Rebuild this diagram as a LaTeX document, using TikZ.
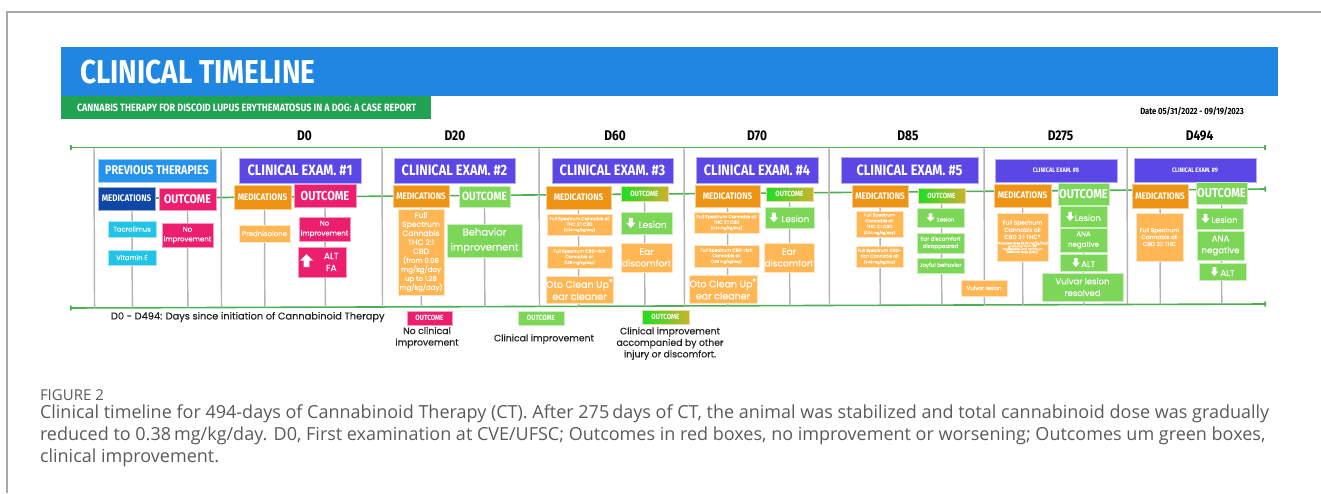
\documentclass[tikz,border=0pt]{standalone}
\usepackage{fontspec}
\setmainfont{Poppins}[UprightFeatures={FakeBold=0.3}]
\newfontfamily\hd[FakeStretch=0.85]{Fira Sans}
\newfontfamily\capfont{Open Sans}
\usetikzlibrary{arrows.meta,calc,backgrounds}

% sizes are given in pixels of the drawing grid (1px = 0.75pt)
\newcommand\fs[2]{\fontsize{\fpeval{#1*0.75}pt}{\fpeval{#2*0.75}pt}\selectfont}
% box from (x1,y1) to (x2,y2): name, style, x1, y1, x2, y2, text
\newcommand\bx[7]{\node[#2, minimum width={(#5-#3)*0.75pt}, minimum height={(#6-#4)*0.75pt}] (#1) at ({(#3+#5)/2},{(#4+#6)/2}) {#7};}
% inline white block arrows (width, height in px)
\newcommand\arrdn[2]{\tikz[baseline=0pt,x=0.75pt,y=0.75pt]\fill[white] (0.27*#1,#2)--(0.73*#1,#2)--(0.73*#1,0.5*#2)--(#1,0.5*#2)--(0.5*#1,0)--(0,0.5*#2)--(0.27*#1,0.5*#2)--cycle;}
% up arrow placed in picture coordinates: x1, ytop, x2, ybottom
\newcommand\arrupat[4]{\fill[white] ({(#1+#3)/2},#2) -- (#3,{#2+(#4-#2)*0.5}) -- ({#1+(#3-#1)*0.73},{#2+(#4-#2)*0.5}) -- ({#1+(#3-#1)*0.73},#4) -- ({#1+(#3-#1)*0.27},#4) -- ({#1+(#3-#1)*0.27},{#2+(#4-#2)*0.5}) -- (#1,{#2+(#4-#2)*0.5}) -- cycle;}

\definecolor{hdblue}{HTML}{1F86E2}
\definecolor{subgreen}{HTML}{21A152}
\definecolor{prevblue}{HTML}{2592EC}
\definecolor{medblue}{HTML}{0E47A8}
\definecolor{cpink}{HTML}{EC1F6E}
\definecolor{ccyan}{HTML}{22C3E6}
\definecolor{cpurple}{HTML}{5B47E6}
\definecolor{corange}{HTML}{EE9414}
\definecolor{clight}{HTML}{FFB654}
\definecolor{cgreen}{HTML}{7CD657}
\definecolor{gradA}{HTML}{1ADF24}
\definecolor{gradB}{HTML}{CBB22E}
\definecolor{tline}{HTML}{4DAF55}
\definecolor{sepgray}{HTML}{B4B4B4}
\definecolor{framegray}{HTML}{A8A8A8}
\definecolor{captext}{HTML}{5A5A5A}
\definecolor{legtext}{HTML}{222222}

\begin{document}
\begin{tikzpicture}[x=0.75pt,y=-0.75pt,
  every node/.style={inner sep=0pt, outer sep=0pt},
  box/.style={align=center, text=white, line width=0.5pt},
  hfont/.style={font={\hd\bfseries\fs{#1}{#1}}},
  bfont/.style 2 args={font={\fs{#1}{#2}}},
  pinkb/.style={box, fill=cpink, draw=cpink!45!white},
  orangeb/.style={box, fill=corange, draw=corange!45!white},
  lightb/.style={box, fill=clight, draw=clight!35!white},
  greenb/.style={box, fill=cgreen, draw=cgreen!40!white},
  purpleb/.style={box, fill=cpurple, draw=cpurple!45!white},
  cyanb/.style={box, fill=ccyan, draw=ccyan!40!white},
  gradb/.style={box, left color=gradA, middle color=gradA!75!gradB, right color=gradB, draw=gradB!45!white},
  med/.style={orangeb, hfont=9.5},
  exam/.style={purpleb, hfont=15},
  examsmall/.style={purpleb, hfont=6.5},
  outsmall/.style={gradb, hfont=7.5},
  tline/.style={draw=tline, line width=1.2pt},
  sepline/.style={draw=sepgray, line width=1.1pt},
  legtxt/.style={align=center, text=legtext, font={\fs{9.3}{11.5}}}
]
\useasboundingbox (0,0) rectangle (1321,493);

% page frame
\draw[framegray, line width=0.8pt] (1321,12) -- (7,12) -- (7,493);

% title banner
\bx{banner}{fill=hdblue}{61}{47}{1278}{96}{}
\node[anchor=west, text=white, hfont=33] (title) at (80,72) {CLINICAL TIMELINE};
\bx{subbar}{fill=subgreen}{61}{96}{431}{119}{}
\node[anchor=west, text=white, hfont=10.6] (subtitle) at (77,107.8) {CANNABIS THERAPY FOR DISCOID LUPUS ERYTHEMATOSUS IN A DOG: A CASE REPORT};
\node[hfont=9] (date) at (1192,111) {Date 05/31/2022 - 09/19/2023};

% day labels
\node[hfont=14] (d0) at (304.5,135.5) {D0};
\node[hfont=14] (d20) at (455,135.5) {D20};
\node[hfont=14] (d60) at (615,135.5) {D60};
\node[hfont=14] (d70) at (757,135.5) {D70};
\node[hfont=14] (d85) at (908,135.5) {D85};
\node[hfont=14] (d275) at (1060.5,135.5) {D275};
\node[hfont=14] (d494) at (1199.5,135.5) {D494};

% timeline ends
\coordinate (tl) at (70,147.5);
\coordinate (tr) at (1266,147.5);
\coordinate (bl) at (70,308);
\coordinate (br) at (1266,304);
\coordinate (mr) at (1266,189);
\foreach \i/\x in {0/94,1/221,2/382,3/539,4/684,5/829,6/984,7/1127}
  \coordinate (s\i) at (\x,147.5);

% ---- previous therapies
\bx{prev}{box, fill=prevblue, draw=prevblue!45!white, hfont=12.6}{98}{159}{216}{182}{PREVIOUS THERAPIES}
\bx{medA}{box, fill=medblue, draw=medblue!45!white, hfont=9.5}{98}{187}{155}{210}{MEDICATIONS}
\bx{outA}{pinkb, hfont=12.5}{159}{188}{216}{210}{OUTCOME}
\bx{tacro}{cyanb, bfont={6.8}{8}}{108}{221}{156}{237}{Tacrolimus}
\bx{vitE}{cyanb, bfont={6.8}{8}}{108}{250}{156}{265}{Vitamin E}
\bx{noimpA}{pinkb, bfont={7}{9.7}}{162}{223}{213}{247}{No\\improvement}

% ---- exam 1
\bx{exA}{exam}{239}{158}{361}{183}{CLINICAL EXAM. \#1}
\bx{medB}{med}{234}{185}{291}{209}{MEDICATIONS}
\bx{outB}{pinkb, hfont=13}{294}{184}{356}{207}{OUTCOME}
\bx{pred}{lightb, bfont={7}{9}}{239}{225}{290}{242}{Prednisolone}
\bx{noimpB}{pinkb, bfont={7}{10}}{299}{217}{350}{241}{No\\improvement}
\bx{altfa}{pinkb, bfont={9}{12}}{298}{247}{346}{277}{\hspace*{14pt}ALT\\\hspace*{14pt}FA}

% ---- exam 2
\bx{exB}{exam}{394}{158}{515}{183}{CLINICAL EXAM. \#2}
\bx{medC}{med}{393}{185}{449}{207}{MEDICATIONS}
\bx{outC}{greenb, hfont=12}{459}{186}{510}{207}{OUTCOME}
\bx{fsC}{lightb, bfont={7.7}{9}}{398}{209}{444}{295}{Full\\Spectrum\\Cannabis\\THC 2:1\\CBD\\{\fs{6.9}{9}(from 0.08}\\{\fs{6.9}{9}mg/kg/day}\\{\fs{6.9}{9}up to 1.28}\\{\fs{6.9}{9}mg/kg/day)}}
\bx{behav}{greenb, bfont={10}{15}}{447}{224}{522}{257}{Behavior\\improvement}

% ---- exam 3
\bx{exC}{exam}{552}{158}{673}{183}{CLINICAL EXAM. \#3}
\bx{medD}{med}{546}{186}{611}{209}{MEDICATIONS}
\bx{outD}{outsmall}{621}{186}{668}{201}{OUTCOME}
\bx{fsD1}{lightb, bfont={4.5}{5.5}}{547}{214}{612}{235}{Full Spectrum Cannabis oil\\THC 2:1 CBD\\{\fs{3.5}{5.5}(0.24 mg/kg/day)}}
\bx{fsD2}{lightb, bfont={4.5}{5.5}}{547}{246}{612}{268}{Full Spectrum CBD-rich\\Cannabis oil\\{\fs{3.5}{5.5}(1.08 mg/kg/day)}}
\bx{otoD}{lightb, bfont={9.5}{12}}{546}{276}{613}{303}{Oto Clean Up\textsuperscript{®}\\ear cleaner}
\bx{lesD}{greenb, bfont={9}{11}}{621}{212}{672}{234}{\arrdn{9}{10}\hspace{2.5pt}Lesion}
\bx{earD}{lightb, bfont={9}{11.7}}{621}{243}{672}{272}{Ear\\discomfort}

% ---- exam 4
\bx{exD}{exam}{696}{157}{818}{183}{CLINICAL EXAM. \#4}
\bx{medE}{med}{695}{185}{760}{207}{MEDICATIONS}
\bx{outE}{outsmall}{766}{187}{813}{201}{OUTCOME}
\bx{fsE1}{lightb, bfont={4.5}{5.5}}{694}{212}{759}{233}{Full Spectrum Cannabis oil\\THC 2:1 CBD\\{\fs{3.5}{5.5}(0.24 mg/kg/day)}}
\bx{fsE2}{lightb, bfont={4.5}{5.5}}{694}{245}{759}{267}{Full Spectrum CBD-rich\\Cannabis oil\\{\fs{3.5}{5.5}(1.08 mg/kg/day)}}
\bx{otoE}{lightb, bfont={9.5}{12}}{689}{275}{757}{303}{Oto Clean Up\textsuperscript{®}\\ear cleaner}
\bx{lesE}{greenb, bfont={9}{11}}{765}{207}{814}{228}{\arrdn{8.5}{9.5}\hspace{2.5pt}Lesion}
\bx{earE}{lightb, bfont={9}{11.7}}{764}{243}{814}{272}{Ear\\discomfort}

% ---- exam 5
\bx{exE}{exam}{841}{157}{978}{183}{CLINICAL EXAM. \#5}
\bx{medF}{med}{852}{185}{908}{207}{MEDICATIONS}
\bx{outF}{outsmall}{918}{188}{965}{203}{OUTCOME}
\bx{fsF1}{lightb, bfont={4.5}{5.8}}{856}{211}{903}{237}{Full Spectrum\\Cannabis oil\\THC 2:1 CBD\\{\fs{3.5}{5.8}(0.24 mg/kg/day)}}
\bx{fsF2}{lightb, bfont={4.5}{5.7}}{856}{246}{903}{267}{Full Spectrum CBD-\\rich Cannabis oil\\{\fs{3.5}{5.7}(2.48 mg/kg/day)}}
\bx{lesF}{greenb, bfont={5.5}{7}}{917}{208}{964}{227}{\arrdn{8}{8}\hspace{2pt}Lesion}
\bx{earF}{greenb, bfont={5.5}{7.3}}{917}{233}{964}{253}{Ear discomfort\\disappeared}
\bx{joy}{greenb, bfont={5.5}{7}}{917}{258}{964}{273}{Joyful behavior}
\bx{vulv}{lightb, bfont={5.5}{7}}{961}{280}{1007}{296}{Vulvar lesion}

% ---- exam 8
\bx{exF}{examsmall}{995}{159}{1117}{182}{CLINICAL EXAM. \#8}
\bx{medG}{med}{994}{184}{1051}{207}{MEDICATIONS}
\bx{outG}{greenb, hfont=13}{1058}{183}{1109}{205}{OUTCOME}
\bx{fsG}{lightb, bfont={5.8}{7.2}}{999}{213}{1046}{261}{Full Spectrum\\Cannabis oil\\CBD 3:1 THC*\\[-1.5pt]{\fs{3}{3.7}*Reduced dose (0.38 mg/kg/day)}\\[-3.2pt]{\fs{3}{3.7}gradually from 1.28}\\[-3.2pt]{\fs{3}{3.7}mg/kg/day until minimum}\\[-3.2pt]{\fs{3}{3.7}effective dose (MED)}}
\bx{lesG}{greenb, bfont={8.4}{10}}{1060}{206}{1107}{227}{\arrdn{8}{9}\hspace{0.5pt}Lesion}
\bx{anaG}{greenb, bfont={7}{10.4}}{1060}{228}{1107}{252}{ANA\\negative}
\bx{altG}{greenb, bfont={8.5}{10}}{1060}{254}{1107}{271}{\arrdn{8}{9}\hspace{1pt}ALT}
\bx{vulvR}{greenb, bfont={8.5}{11.7}}{1042}{273}{1123}{301}{Vulvar lesion\\resolved}

% ---- exam 9
\bx{exG}{examsmall}{1134}{158}{1256}{182}{CLINICAL EXAM. \#9}
\bx{medH}{med}{1132}{184}{1188}{208}{MEDICATIONS}
\bx{outH}{greenb, hfont=13}{1196}{182}{1247}{204}{OUTCOME}
\bx{fsH}{lightb, bfont={5.8}{6.9}}{1136}{213}{1183}{261}{Full Spectrum\\Cannabis oil\\CBD 3:1 THC}
\bx{lesH}{greenb, bfont={8.4}{10}}{1196}{208}{1243}{229}{\arrdn{8}{9}\hspace{1.5pt}Lesion}
\bx{anaH}{greenb, bfont={8.6}{11.7}}{1197}{231}{1244}{260}{ANA\\negative}
\bx{altH}{greenb, bfont={8.6}{10}}{1199}{263}{1246}{280}{\arrdn{8}{9}\hspace{1.5pt}ALT}

% raised-value arrow in the first exam outcome
\arrupat{300}{254}{313}{267}

% ---- legend
\node[anchor=west, text=legtext, font={\fs{9.8}{11}}] (daysnote) at (111,317) {D0 - D494: Days since initiation of Cannabinoid Therapy};
\bx{legP}{pinkb, hfont=7.5}{407}{311}{452}{325}{OUTCOME}
\node[legtxt] (legPt) at (427,337.5) {No clinical\\improvement};
\bx{legG}{greenb, hfont=7.5}{518}{311}{564}{325}{OUTCOME}
\node[legtxt] (legGt) at (544,339) {Clinical improvement};
\bx{legY}{outsmall}{642}{310}{689}{324}{OUTCOME}
\node[legtxt] (legYt) at (670,343.5) {Clinical improvement\\accompanied by other\\injury or discomfort.};

% ---- caption
\node[anchor=base west, text=captext, font={\capfont\fs{15}{16}}] (fig) at (40,400) {FIGURE 2};
\node[anchor=base west, text=captext, font={\capfont\fs{18}{22}}] (cap1) at (40,418.5) {Clinical timeline for 494-days of Cannabinoid Therapy (CT). After 275\,days of CT, the animal was stabilized and total cannabinoid dose was gradually};
\node[anchor=base west, text=captext, font={\capfont\fs{18}{22}}] (cap2) at (40,440.5) {reduced to 0.38\,mg/kg/day. D0, First examination at CVE/UFSC; Outcomes in red boxes, no improvement or worsening; Outcomes um green boxes,};
\node[anchor=base west, text=captext, font={\capfont\fs{18}{22}}] (cap3) at (40,462.5) {clinical improvement.};

% ---- timeline rails, separators and drop lines behind the boxes
\begin{pgfonlayer}{background}
  \draw[tline, {Bar[width=4pt]}-{Bar[width=4pt]}] (tl) -- (tr);
  \draw[tline, {Bar[width=4pt]}-{Bar[width=4pt]}] (bl) -- (br);
  \draw[tline, -{Bar[width=4pt]}] (medA.west) -- (mr);
  \foreach \i in {0,...,7}
    \draw[sepline] (s\i) -- ($(bl)!(s\i)!(br)$);
  \foreach \a/\b in {tacro/medA, outA/outA, pred/medB, outB/outB, medC/medC, outC/outC,
                     medD/medD, outD/outD, medE/medE, outE/outE, medF/medF, outF/outF,
                     medG/medG, outG/outG, medH/medH, outH/outH}
    \draw[sepline] (\b.south -| \a.center) -- ($(bl)!(\b.south -| \a.center)!(br)$);
\end{pgfonlayer}
\end{tikzpicture}
\end{document}
